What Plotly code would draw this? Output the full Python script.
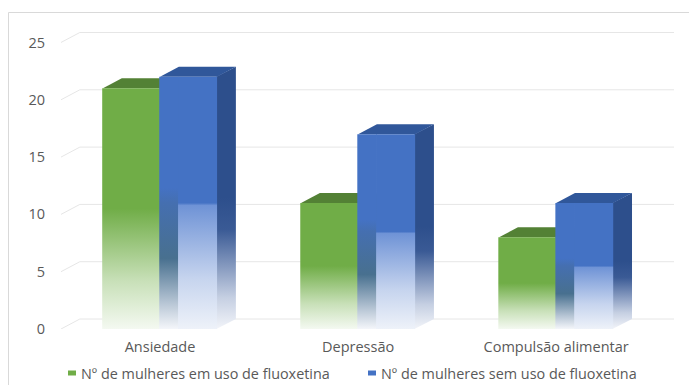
import plotly.graph_objects as go

# ---- data ----
categories = ["Ansiedade", "Depressão", "Compulsão alimentar"]
com_fluoxetina = [21, 11, 8]
sem_fluoxetina = [22, 17, 11]
y_ticks = [0, 5, 10, 15, 20, 25]
series_names = ["Nº de mulheres em uso de fluoxetina",
                "Nº de mulheres sem uso de fluoxetina"]

# ---- geometry of the pseudo-3D columns (axis units) ----
BAR_W = 0.288      # width of one column
DX = 0.095         # depth offset along x
DY = 0.87          # depth offset along y
EPS = 0.004        # small overlap so neighbouring faces leave no seams
X0, X1 = -0.5, 2.5
Y_MAX = 26

GREEN = "#70AD47"
GREEN_TOP = "#538135"
BLUE = "#4472C4"
BLUE_TOP = "#30579A"
BLUE_SIDE = "#2D4F8C"
TEXT = "#595959"
FONT = "Open Sans"

# page layout (pixels)
W, H = 689, 385
M_L, M_R, M_T, M_B = 61, 15, 31, 56
PLOT_W = W - M_L - M_R
PLOT_H = H - M_T - M_B


def px_x(px):
    return (px - M_L) / PLOT_W


def px_y(py):
    return (H - M_B - py) / PLOT_H


fig = go.Figure()


def poly(xs, ys, color=None, stops=None):
    """Closed filled polygon in data coordinates (solid or vertical gradient)."""
    kw = dict(x=list(xs) + [xs[0]], y=list(ys) + [ys[0]], mode="lines",
              fill="toself", line=dict(width=0), hoverinfo="skip",
              showlegend=False)
    if stops is not None:
        kw["fillgradient"] = dict(type="vertical", colorscale=stops)
    else:
        kw["fillcolor"] = color
    fig.add_trace(go.Scatter(**kw))


# back-wall gridlines with the short slanted lead-in from the value axis
for v in y_ticks:
    fig.add_trace(go.Scatter(
        x=[X0, X0 + DX, X1 + DX], y=[v, v + DY, v + DY], mode="lines",
        line=dict(color="#E6E6E6", width=1), hoverinfo="skip",
        showlegend=False))


def column(a, v, front_stops, top_color, side_stops, split_front=None):
    w = BAR_W
    # right side face
    poly([a + w - EPS, a + w + DX, a + w + DX, a + w - EPS],
         [0, DY, v + DY, v], stops=side_stops)
    # top face
    poly([a, a + DX, a + w + DX, a + w], [v, v + DY, v + DY, v],
         color=top_color)
    # front face
    if split_front is None:
        poly([a - EPS, a + w, a + w, a - EPS], [0, 0, v, v], stops=front_stops)
    else:
        strip_stops, inner_stops = split_front
        poly([a - EPS, a + DX, a + DX, a - EPS], [0, 0, v, v],
             stops=strip_stops)
        poly([a + DX - EPS, a + w, a + w, a + DX - EPS], [0, 0, v, v],
             stops=inner_stops)


green_front = [[0, "#F4F9F1"], [0.2, "#C8E0B8"], [0.5, GREEN], [1, GREEN]]
green_side = [[0, "#F2F6EE"], [0.5, "#507D33"], [1, "#507D33"]]

blue_strip = [[0, "#F4F6FA"], [0.1, "#B9C7D6"], [0.28, "#48708F"],
              [0.5, "#456FB0"], [0.56, BLUE], [1, BLUE]]
blue_inner = [[0, "#EEF2F9"], [0.2, "#C6D4EE"], [0.49, "#6F93D6"],
              [0.5, BLUE], [1, BLUE]]
blue_side = [[0, "#F2F4F9"], [0.12, "#C5CFE2"], [0.38, "#3A5A95"],
             [0.5, BLUE_SIDE], [1, BLUE_SIDE]]

for i, (g, b) in enumerate(zip(com_fluoxetina, sem_fluoxetina)):
    column(i - BAR_W, g, green_front, GREEN_TOP, green_side)
    column(i, b, None, BLUE_TOP, blue_side,
           split_front=(blue_strip, blue_inner))

# legend: small colour key followed by the series name
legend_y = 373
for name, col, key_x in zip(series_names, [GREEN, BLUE], [68, 368]):
    fig.add_shape(type="rect", xref="paper", yref="paper",
                  x0=px_x(key_x), x1=px_x(key_x + 8),
                  y0=px_y(legend_y + 2.5), y1=px_y(legend_y - 2.5),
                  fillcolor=col, line=dict(width=0))
    fig.add_annotation(xref="paper", yref="paper", x=px_x(key_x + 11),
                       y=px_y(legend_y), xanchor="left", yanchor="middle",
                       text=name, showarrow=False,
                       font=dict(size=14.4, color=TEXT, family=FONT))

# chart-area frame
fig.add_shape(type="rect", xref="paper", yref="paper",
              x0=px_x(8.5), x1=1.2, y0=-0.4, y1=px_y(12.5),
              line=dict(color="#D9D9D9", width=1), layer="below")

fig.update_layout(
    width=W, height=H,
    margin=dict(l=M_L, r=M_R, t=M_T, b=M_B, autoexpand=False),
    plot_bgcolor="white", paper_bgcolor="white",
    font=dict(family=FONT, color=TEXT, size=13),
    xaxis=dict(range=[X0, X1 + DX], tickvals=[0, 1, 2], ticktext=categories,
               showgrid=False, zeroline=False, showline=False, ticks="",
               tickfont=dict(size=14.5, color=TEXT), ticklabelstandoff=7,
               automargin=False),
    yaxis=dict(range=[0, Y_MAX], tickvals=y_ticks, showgrid=False,
               zeroline=False, showline=False, ticks="",
               tickfont=dict(size=14.5, color=TEXT), ticklabelstandoff=15,
               automargin=False),
    showlegend=False,
)

fig.write_html("out.html")
